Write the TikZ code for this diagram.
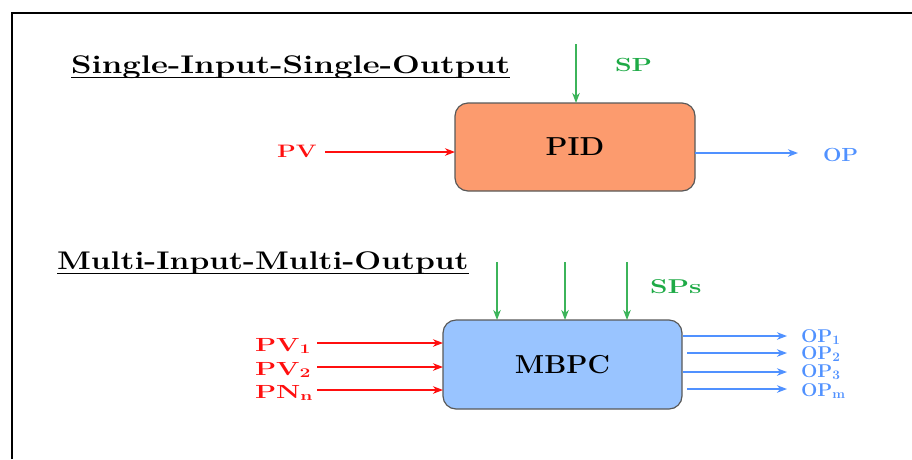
\documentclass[tikz,border=0pt]{standalone}
\usepackage{fontspec}
\usepackage{graphicx}
\usetikzlibrary{arrows.meta}
\definecolor{pidfill}{RGB}{252,155,110}
\definecolor{mbpcfill}{RGB}{153,196,255}
\definecolor{opblue}{RGB}{80,145,255}
\definecolor{spgreen}{RGB}{30,170,70}
\definecolor{arrgreen}{RGB}{60,180,90}
\definecolor{pvred}{RGB}{255,15,15}
\newcommand{\stx}[3]{{\fontsize{#1}{#1}\selectfont\bfseries\scalebox{#2}[1]{#3}}}
\begin{document}
\begin{tikzpicture}[x=1pt,y=-1pt,
  box/.style={draw=black!65, line width=1.2pt, rounded corners=13pt, minimum width=240pt, minimum height=88pt, inner sep=0pt, outer sep=0pt},
  lbl/.style={inner sep=0pt, outer sep=0pt, anchor=base west},
  tip/.style={-{Stealth[length=10pt,width=7.5pt,inset=3pt]}, line width=1.3pt},
  uline/.style={line width=1.3pt, black}
]
\useasboundingbox (0,0) rectangle (912,459);
\draw[line width=2pt] (12,459) -- (12,13) -- (912,13);

% SISO
\node[lbl] (t1) at (71,73) {\stx{25.5}{1.29}{Single-Input-Single-Output}};
\draw[uline] ([yshift=-4.5pt]t1.base west) -- ([yshift=-4.5pt]t1.base east);
\node[box, fill=pidfill] (pid) at (575,147) {\stx{26}{1.1}{PID}};
\node[lbl, text=pvred] (pv) at (277,157) {\stx{18}{1.36}{PV}};
\node[lbl, text=spgreen] (sp) at (615,71) {\stx{19}{1.4}{SP}};
\node[lbl, text=opblue] (op) at (823,161) {\stx{19}{1.15}{OP}};
\coordinate (pvs) at (325,152);
\draw[tip, pvred] (pvs) -- (pvs -| pid.west);
\coordinate (ope) at (798,153);
\draw[tip, opblue] (ope -| pid.east) -- (ope);
\coordinate (spt) at (576,44);
\draw[tip, arrgreen] (spt) -- (spt |- pid.north);

% MIMO
\node[lbl] (t2) at (57,269) {\stx{25.5}{1.245}{Multi-Input-Multi-Output}};
\draw[uline] ([yshift=-4.5pt]t2.base west) -- ([yshift=-4.5pt]t2.base east);
\node[box, fill=mbpcfill, minimum width=239pt, minimum height=89pt] (mbpc) at (562.5,364.5) {\stx{26}{1.06}{MBPC}};
\node[lbl, text=spgreen] (sps) at (650,293) {\stx{20}{1.4}{SPs}};
\foreach \x [count=\i] in {497,565,627}{
  \coordinate (s\i) at (\x,262);
  \draw[tip, arrgreen] (s\i) -- (s\i |- mbpc.north);
}
\node[lbl, text=pvred] (pv1) at (255,351) {\stx{19}{1.45}{PV\textsubscript{1}}};
\node[lbl, text=pvred] (pv2) at (255,375) {\stx{19}{1.45}{PV\textsubscript{2}}};
\node[lbl, text=pvred] (pnn) at (255,398) {\stx{19}{1.45}{PN\textsubscript{n}}};
\foreach \y [count=\i] in {343,367,390}{
  \coordinate (i\i) at (317,\y);
  \draw[tip, pvred] (i\i) -- (i\i -| mbpc.west);
}
\node[lbl, text=opblue] (op1) at (801,342) {\stx{18.5}{1.05}{OP\textsubscript{1}}};
\node[lbl, text=opblue] (op2) at (801,359) {\stx{18.5}{1.05}{OP\textsubscript{2}}};
\node[lbl, text=opblue] (op3) at (801,377) {\stx{18.5}{1.05}{OP\textsubscript{3}}};
\node[lbl, text=opblue] (opm) at (801,396) {\stx{18.5}{1.05}{OP\textsubscript{m}}};
\foreach \y/\g [count=\i] in {336/1,353/5,372/1,389/5}{
  \coordinate (o\i) at (787,\y);
  \draw[tip, opblue] ([xshift=\g pt]o\i -| mbpc.east) -- (o\i);
}
\end{tikzpicture}
\end{document}
